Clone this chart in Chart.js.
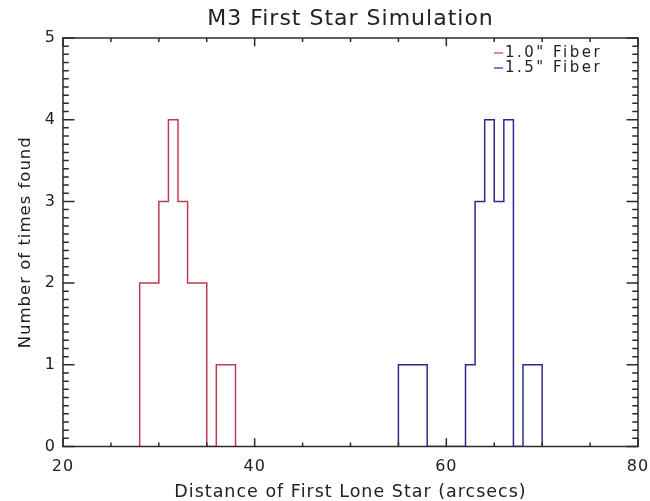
<!DOCTYPE html>
<html lang="en">
<head>
<meta charset="UTF-8" />
<title>M3 First Star Simulation</title>
<script src="https://cdn.jsdelivr.net/npm/chart.js"></script>
<style>
  body { margin: 0; background: #fff; }
  #wrap { width: 650px; height: 501px; }
</style>
</head>
<body>
<div id="wrap"><canvas id="histChart"></canvas></div>
<script>
// histogram bins (left edge of each 1 arcsec bin) and counts
var binWidth = 1;
var fiber10Bins = [28, 29, 30, 31, 32, 33, 34, 35, 36, 37];
var fiber10Counts = [2, 2, 3, 4, 3, 2, 2, 0, 1, 1];
var fiber15Bins = [55, 56, 57, 58, 59, 60, 61, 62, 63, 64, 65, 66, 67, 68, 69];
var fiber15Counts = [1, 1, 1, 0, 0, 0, 0, 1, 3, 4, 3, 4, 0, 1, 1];
var seriesLabels = ['1.0" Fiber', '1.5" Fiber'];
var seriesColors = ['#c23a4e', '#2b2b8f'];
var chartTitle = 'M3 First Star Simulation';
var xTicks = [20, 40, 60, 80];
var yTicks = [0, 1, 2, 3, 4, 5];

// step outline of a histogram: up from 0 at first edge, down to 0 at last edge
function outline(bins, counts) {
  var pts = [{ x: bins[0], y: 0 }];
  bins.forEach(function (b, i) { pts.push({ x: b, y: counts[i] }); });
  pts.push({ x: bins[bins.length - 1] + binWidth, y: 0 });
  return pts;
}

var FONT = "'DejaVu Sans', sans-serif";

function spacing(chart) { chart.ctx.letterSpacing = '1px'; }

// IDL style box with inward ticks on all four sides, title and legend
var framePlugin = {
  id: 'frame',
  beforeLayout: spacing,
  beforeDraw: spacing,
  afterDatasetsDraw: function (chart) {
    var ctx = chart.ctx, a = chart.chartArea;
    var xs = chart.scales.x, ys = chart.scales.y;
    var h = a.bottom - a.top, w = a.right - a.left;
    ctx.save();
    ctx.strokeStyle = '#2a2a2a';
    ctx.lineWidth = 1.5;
    ctx.strokeRect(a.left, a.top, w, h);
    ctx.beginPath();
    for (var xv = xTicks[0]; xv <= xTicks[xTicks.length - 1]; xv += 5) {
      var px = xs.getPixelForValue(xv);
      var lx = xTicks.indexOf(xv) >= 0 ? 0.02 * h : 0.01 * h;
      ctx.moveTo(px, a.bottom); ctx.lineTo(px, a.bottom - lx);
      ctx.moveTo(px, a.top); ctx.lineTo(px, a.top + lx);
    }
    for (var k = 0; k <= yTicks[yTicks.length - 1] * 10; k++) {
      var py = ys.getPixelForValue(k / 10);
      var ly = k % 10 === 0 ? 0.02 * w : 0.01 * w;
      ctx.moveTo(a.left, py); ctx.lineTo(a.left + ly, py);
      ctx.moveTo(a.right, py); ctx.lineTo(a.right - ly, py);
    }
    ctx.stroke();

    // title centred over the plot box
    ctx.fillStyle = '#222';
    ctx.font = '22px ' + FONT;
    ctx.letterSpacing = '1px';
    ctx.textAlign = 'center';
    ctx.textBaseline = 'middle';
    ctx.fillText(chartTitle, (a.left + a.right) / 2, 19);

    // legend, top right inside the box
    ctx.font = '15px ' + FONT;
    ctx.letterSpacing = '2.5px';
    ctx.textAlign = 'left';
    seriesLabels.forEach(function (lab, i) {
      var y = 53 + i * 15;
      ctx.strokeStyle = seriesColors[i];
      ctx.lineWidth = 1.2;
      ctx.beginPath();
      ctx.moveTo(494, y); ctx.lineTo(503, y);
      ctx.stroke();
      ctx.fillText(lab, 505, y);
    });
    ctx.restore();
  }
};

new Chart(document.getElementById('histChart'), {
  type: 'line',
  data: {
    datasets: [
      {
        label: seriesLabels[0],
        data: outline(fiber10Bins, fiber10Counts),
        borderColor: seriesColors[0],
        borderWidth: 1.5,
        stepped: true,
        pointRadius: 0,
        fill: false
      },
      {
        label: seriesLabels[1],
        data: outline(fiber15Bins, fiber15Counts),
        borderColor: seriesColors[1],
        borderWidth: 1.5,
        stepped: true,
        pointRadius: 0,
        fill: false
      }
    ]
  },
  plugins: [framePlugin],
  options: {
    responsive: true,
    maintainAspectRatio: false,
    animation: false,
    layout: { padding: { top: 38, left: 0, right: 12, bottom: 0 } },
    plugins: {
      legend: { display: false },
      tooltip: { enabled: false },
      title: { display: false }
    },
    scales: {
      x: {
        type: 'linear',
        min: xTicks[0],
        max: xTicks[xTicks.length - 1],
        grid: { display: false, drawTicks: false },
        border: { display: false },
        afterBuildTicks: function (s) { s.ticks = xTicks.map(function (v) { return { value: v }; }); },
        afterFit: function (s) { s.height = 54.5; s.paddingLeft = 0; s.paddingRight = 0; },
        ticks: { color: '#222', padding: 11, maxRotation: 0, font: { family: FONT, size: 16 } },
        title: {
          display: true,
          text: 'Distance of First Lone Star (arcsecs)',
          color: '#222',
          font: { family: FONT, size: 17.5, lineHeight: 1 },
          padding: { top: 0, bottom: 0 }
        }
      },
      y: {
        min: yTicks[0],
        max: yTicks[yTicks.length - 1],
        grid: { display: false, drawTicks: false },
        border: { display: false },
        afterBuildTicks: function (s) { s.ticks = yTicks.map(function (v) { return { value: v }; }); },
        afterFit: function (s) { s.width = 63; s.paddingTop = 0; s.paddingBottom = 0; },
        ticks: { color: '#222', padding: 7, font: { family: FONT, size: 16 } },
        title: {
          display: true,
          text: 'Number of times found',
          color: '#222',
          font: { family: FONT, size: 16.5 },
          padding: { top: 16, bottom: 0 }
        }
      }
    }
  }
});
</script>
</body>
</html>
